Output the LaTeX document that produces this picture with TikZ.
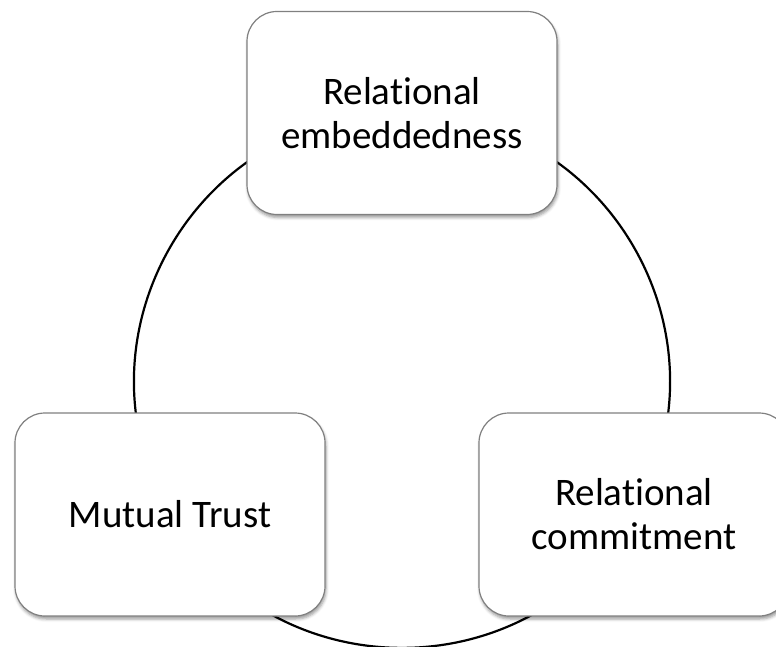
\documentclass[tikz,border=0pt]{standalone}
\usepackage{fontspec}
\setmainfont{Carlito}[Ligatures=NoCommon]
\usetikzlibrary{shadows.blur,backgrounds}

\begin{document}
\begin{tikzpicture}[x=1pt,y=1pt,
    factor/.style={draw=black!50, line width=1.2pt, fill=white, rounded corners=30pt,
        minimum width=310pt, minimum height=203pt, align=center,
        font=\fontsize{39}{44}\selectfont,
        blur shadow={shadow xshift=1pt, shadow yshift=-3pt, shadow blur radius=3pt, shadow opacity=40}},
    link/.style={line width=2.2pt, bend left=60, looseness=1.135}]
    \useasboundingbox (0,0) rectangle (776,646);
    \node[factor] (emb) at (402,533) {Relational\\embeddedness};
    \node[factor] (commit) at (634,131.5) {Relational\\commitment};
    \node[factor] (trust) at (170,131.5) {Mutual Trust};
    \begin{pgfonlayer}{background}
    \draw[link] (emb.center) to (commit.center) to (trust.center) to (emb.center);
    \end{pgfonlayer}
\end{tikzpicture}
\end{document}
